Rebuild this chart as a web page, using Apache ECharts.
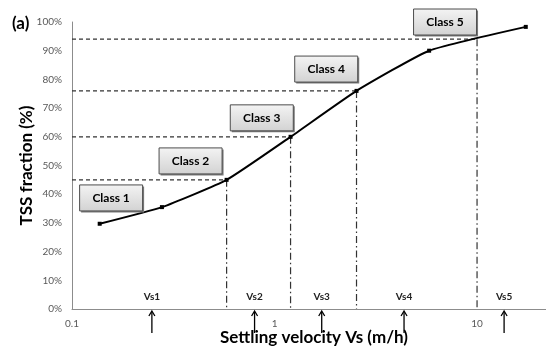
<!DOCTYPE html>
<html>
<head>
<meta charset="utf-8">
<script src="https://cdn.jsdelivr.net/npm/echarts@6/dist/echarts.min.js"></script>
<style>
  html, body { margin: 0; padding: 0; background: #fff; }
  #chart { width: 546px; height: 349px; }
</style>
</head>
<body>
<div id="chart"></div>
<script>
// Cumulative TSS fraction vs settling velocity (log scale)
const velocity = [0.137, 0.278, 0.58, 1.2, 2.54, 5.8, 17.4];
const tssFraction = [29.7, 35.5, 45, 60, 76, 90, 98.3];

// Class boundaries (velocity, fraction)
const boundX = [0.58, 1.2, 2.54, 10];
const boundY = [45, 60, 76, 94];

// Class labels and anchor positions
const classLabels = ['Class 1', 'Class 2', 'Class 3', 'Class 4', 'Class 5'];
const classX = [0.156, 0.385, 0.865, 1.8, 6.95];
const classY = [38.7, 51.6, 66.6, 83.6, 100];

// Representative settling velocities per class
const vsLabels = ['Vs1', 'Vs2', 'Vs3', 'Vs4', 'Vs5'];
const vsX = [0.248, 0.797, 1.71, 4.36, 13.6];
const vsLabelY = 4.2;

const yTicks = [0, 10, 20, 30, 40, 50, 60, 70, 80, 90, 100];
const xTickLabels = ['0.1', '1', '10'];

const FONT = 'Lato, "Open Sans", sans-serif';
const X_MIN = 0.1, X_MAX = 21.9;

const chart = echarts.init(document.getElementById('chart'));

chart.setOption({
  animation: false,
  grid: { left: 72, right: 0, top: 22, bottom: 40, containLabel: false, outerBoundsMode: 'none' },
  xAxis: {
    type: 'log',
    logBase: 10,
    min: X_MIN,
    max: X_MAX,
    name: 'Settling velocity Vs (m/h)',
    nameLocation: 'middle',
    nameGap: 20,
    nameMoveOverlap: false,
    nameTextStyle: { fontFamily: FONT, fontWeight: 'bold', fontSize: 17, color: '#000', padding: [0, 0, 0, 10] },
    axisLine: { lineStyle: { color: '#8c8c8c', width: 1 } },
    axisTick: { show: false },
    splitLine: { show: false },
    minorTick: { show: false },
    axisLabel: {
      fontFamily: FONT, fontSize: 10, color: '#595959', margin: 10,
      showMaxLabel: false,
      formatter: function (v) {
        const s = String(+v.toPrecision(3));
        return xTickLabels.indexOf(s) >= 0 ? s : '';
      }
    }
  },
  yAxis: {
    type: 'value',
    min: 0,
    max: 100,
    interval: 10,
    name: 'TSS fraction (%)',
    nameLocation: 'middle',
    nameGap: 37,
    nameMoveOverlap: false,
    nameTextStyle: { fontFamily: FONT, fontWeight: 'bold', fontSize: 17, color: '#000' },
    axisLine: { show: true, lineStyle: { color: '#8c8c8c', width: 1 } },
    axisTick: { show: false },
    splitLine: { show: false },
    axisLabel: {
      fontFamily: FONT, fontSize: 10, color: '#595959', margin: 10,
      formatter: function (v) { return yTicks.indexOf(v) >= 0 ? v + '%' : ''; }
    }
  },
  graphic: [{
    type: 'text', left: 12, top: 15,
    style: { text: '(a)', fontFamily: FONT, fontWeight: 'bold', fontSize: 17, fill: '#000' }
  }],
  series: [
    {
      // Dashed horizontal and dash-dot vertical guides at class boundaries
      type: 'custom',
      z: 1,
      data: boundX.map((x, i) => [x, boundY[i]]),
      renderItem: function (params, api) {
        const x = api.value(0), y = api.value(1);
        const p = api.coord([x, y]);
        const p0 = api.coord([X_MIN, y]);
        const pb = api.coord([x, 0]);
        return {
          type: 'group',
          children: [
            { type: 'line', shape: { x1: p0[0], y1: p[1], x2: p[0], y2: p[1] },
              style: { stroke: '#333', lineWidth: 1.2, lineDash: [4, 3] } },
            { type: 'line', shape: { x1: p[0], y1: p[1], x2: p[0], y2: pb[1] },
              style: { stroke: '#333', lineWidth: 1.2, lineDash: [7, 3, 1.5, 3] } }
          ]
        };
      }
    },
    {
      type: 'line',
      z: 3,
      data: velocity.map((v, i) => [v, tssFraction[i]]),
      smooth: 0.15,
      symbol: 'rect',
      symbolSize: 4,
      lineStyle: { color: '#000', width: 2 },
      itemStyle: { color: '#000' }
    },
    {
      // Class label boxes
      type: 'custom',
      z: 4,
      data: classX.map((x, i) => [x, classY[i]]),
      renderItem: function (params, api) {
        const c = api.coord([api.value(0), api.value(1)]);
        const w = 63, h = 26;
        return {
          type: 'group',
          children: [
            { type: 'rect', shape: { x: c[0] - w / 2 + 1.5, y: c[1] - h / 2 + 1.5, width: w, height: h },
              style: { fill: '#7a7a7a' } },
            { type: 'rect', shape: { x: c[0] - w / 2, y: c[1] - h / 2, width: w, height: h },
              style: {
                fill: new echarts.graphic.LinearGradient(0, 0, 0, 1, [
                  { offset: 0, color: '#f4f4f4' }, { offset: 1, color: '#d2d2d2' }
                ]),
                stroke: '#4d4d4d', lineWidth: 1
              } },
            { type: 'text', x: c[0], y: c[1],
              style: { text: classLabels[params.dataIndex], fontFamily: FONT, fontWeight: 'bold',
                       fontSize: 12, fill: '#000', align: 'center', verticalAlign: 'middle' } }
          ]
        };
      }
    },
    {
      // Vs labels and arrows under the axis
      type: 'custom',
      z: 4,
      clip: false,
      data: vsX.map(x => [x, vsLabelY]),
      renderItem: function (params, api) {
        const x = api.value(0);
        const c = api.coord([x, api.value(1)]);
        const a = api.coord([x, 0]);
        const top = a[1] + 2, bottom = a[1] + 24;
        return {
          type: 'group',
          children: [
            { type: 'text', x: c[0], y: c[1],
              style: { text: vsLabels[params.dataIndex], fontFamily: FONT, fontWeight: 'bold',
                       fontSize: 10, fill: '#222', align: 'center', verticalAlign: 'middle' } },
            { type: 'line', shape: { x1: a[0], y1: top + 1, x2: a[0], y2: bottom },
              style: { stroke: '#000', lineWidth: 1.3 } },
            { type: 'polyline', shape: { points: [[a[0] - 3, top + 5], [a[0], top], [a[0] + 3, top + 5]] },
              style: { stroke: '#000', lineWidth: 1.3, fill: null } }
          ]
        };
      }
    }
  ]
});
</script>
</body>
</html>
